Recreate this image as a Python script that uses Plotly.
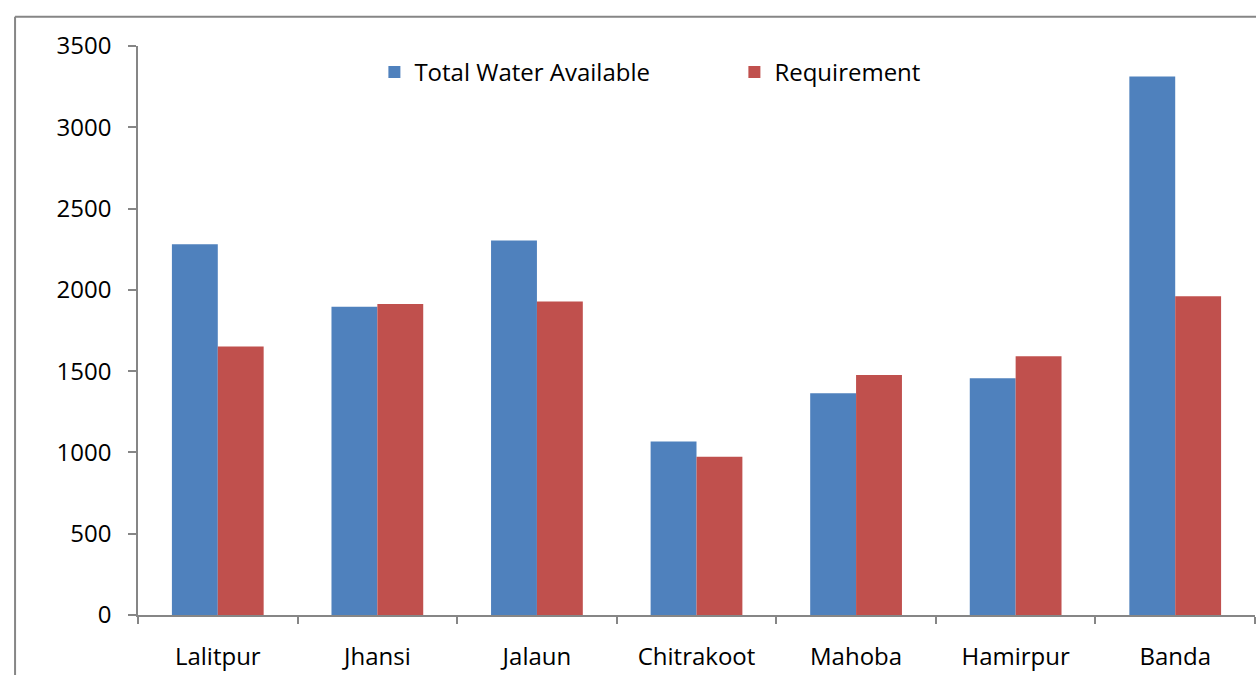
import plotly.graph_objects as go

districts = ["Lalitpur", "Jhansi", "Jalaun", "Chitrakoot", "Mahoba", "Hamirpur", "Banda"]
total_water = [2281, 1896, 2304, 1067, 1364, 1457, 3313]
requirement = [1651, 1913, 1929, 973, 1477, 1592, 1960]
y_ticks = [0, 500, 1000, 1500, 2000, 2500, 3000, 3500]

W, H = 1256, 675
L, R, T, B = 137.5, 1.0, 45.5, 59.5
pw = W - L - R
ph = H - T - B
FONT = "Open Sans"
FS = 24
GRAY = "#868686"

fig = go.Figure()
fig.add_trace(go.Bar(x=districts, y=total_water, name="Total Water Available",
                     marker=dict(color="#4F81BD", line=dict(width=0))))
fig.add_trace(go.Bar(x=districts, y=requirement, name="Requirement",
                     marker=dict(color="#C0504D", line=dict(width=0))))

def px_x(p):
    return (p - L) / pw

def px_y(p):
    return 1 - (p - T) / ph

fig.update_layout(
    width=W, height=H,
    margin=dict(l=L, r=R, t=T, b=B, pad=0),
    paper_bgcolor="white", plot_bgcolor="white",
    font=dict(family=FONT, size=FS, color="black"),
    barmode="group", bargap=0.425, bargroupgap=0,
    showlegend=True,
    legend=dict(orientation="h", x=px_x(374), xanchor="left",
                y=px_y(72), yanchor="middle", entrywidth=315, entrywidthmode="pixels",
                font=dict(family=FONT, size=FS, color="black"),
                bgcolor="rgba(0,0,0,0)", borderwidth=0, tracegroupgap=0),
    xaxis=dict(showgrid=False, showline=True, linecolor=GRAY, linewidth=1.5,
               ticks="outside", tickson="boundaries", ticklen=7, tickcolor=GRAY, tickwidth=1.5,
               ticklabelstandoff=19, tickfont=dict(family=FONT, size=FS, color="black"),
               zeroline=False, fixedrange=True),
    yaxis=dict(range=[0, 3500], tickvals=y_ticks, showgrid=False, showline=True,
               linecolor=GRAY, linewidth=1.5, ticks="outside", ticklen=8, tickcolor=GRAY,
               tickwidth=1.5, ticklabelstandoff=12, tickfont=dict(family=FONT, size=FS, color="black"),
               zeroline=False, fixedrange=True),
)

# outer chart border (left and top edges visible)
fig.add_shape(type="line", xref="paper", yref="paper",
              x0=px_x(14.5), x1=px_x(14.5), y0=px_y(16.3), y1=px_y(H + 5),
              line=dict(color=GRAY, width=2))
fig.add_shape(type="line", xref="paper", yref="paper",
              x0=px_x(14.5), x1=px_x(W + 5), y0=px_y(16.3), y1=px_y(16.3),
              line=dict(color=GRAY, width=2))

fig.write_html("out.html", config={"displayModeBar": False})
